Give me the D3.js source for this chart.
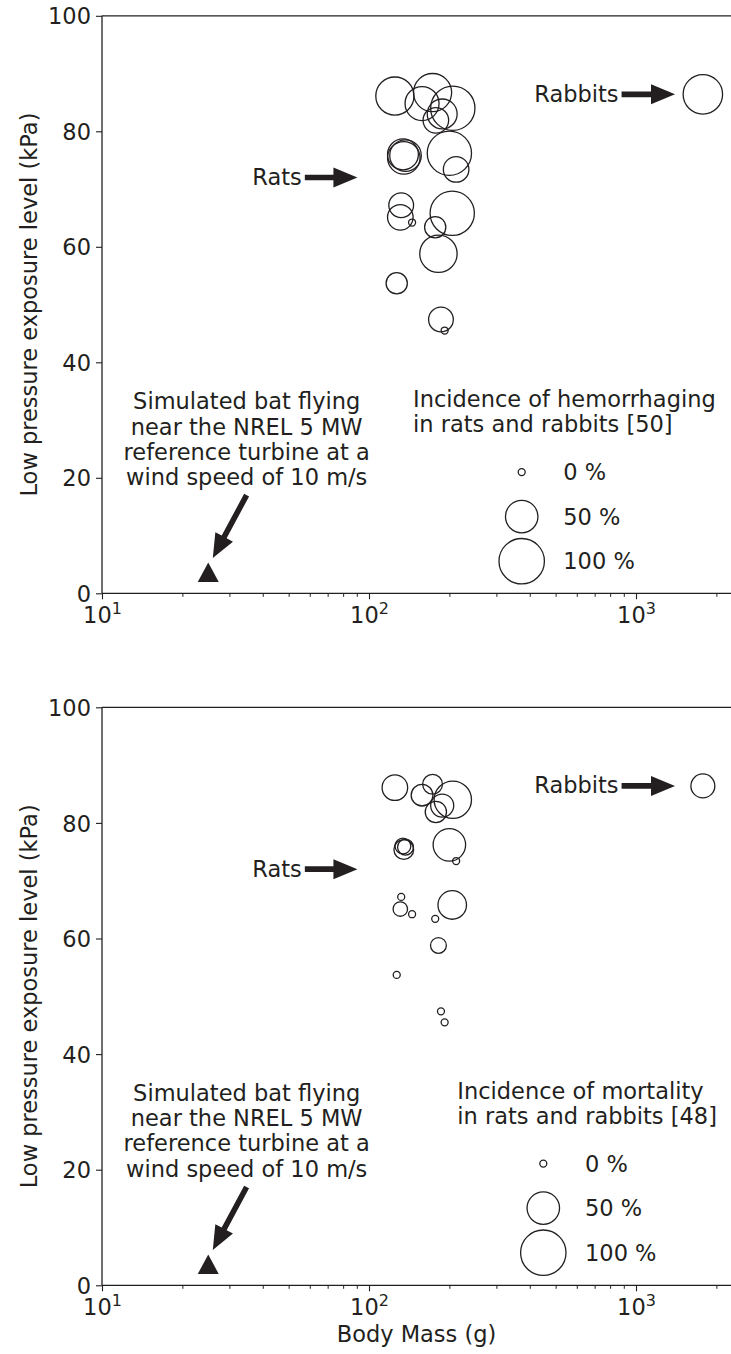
<!DOCTYPE html>
<html>
<head>
<meta charset="utf-8">
<script src="https://cdn.jsdelivr.net/npm/d3@7"></script>
<style>
  html, body { margin: 0; padding: 0; background: #fff; }
  svg { display: block; }
  text { font-family: "DejaVu Sans", sans-serif; fill: #231f20; }
</style>
</head>
<body>
<svg id="chart" width="731" height="1354"></svg>
<script>
// Rat exposures: body mass (g) and low-pressure level (kPa)
const ratMass = [125, 173, 158, 206, 188, 178, 135, 137, 134, 200, 212, 132, 131, 145, 205, 177, 182, 127, 186, 192];
const ratPressure = [86.1, 86.7, 84.8, 84.0, 83.0, 81.9, 75.4, 75.8, 76.0, 76.2, 73.4, 67.2, 65.1, 64.2, 65.8, 63.4, 58.8, 53.7, 47.4, 45.5];
// Incidence (%) of hemorrhaging and of mortality for each rat exposure
const ratHemorrhage = [70, 70, 55, 95, 42, 30, 50, 47, 45, 95, 30, 28, 30, 0, 95, 20, 67, 20, 28, 0];
const ratMortality = [30, 17, 21, 67, 24, 20, 17, 10, 10, 50, 0, 0, 8, 0, 38, 0, 10, 0, 0, 0];

// Rabbit exposure
const rabbitMass = [1780];
const rabbitPressure = [86.4];
const rabbitHemorrhage = [75];
const rabbitMortality = [26];

// Simulated bat near the NREL 5 MW turbine
const batMass = [25.0];
const batPressure = [3.6];

// Axis ticks and legend steps
const xMajorTicks = [10, 100, 1000];
const xTickExponents = ["1", "2", "3"];
const yTicks = [0, 20, 40, 60, 80, 100];
const legendPercents = [0, 50, 100];
const legendLabels = ["0 %", "50 %", "100 %"];

// Annotation arrows: [tail mass, tail kPa, tip mass, tip kPa]
const ratsArrow = [57.5, 72.0, 90.5, 72.0];
const rabbitsArrow = [883, 86.4, 1400, 86.4];
const batArrow = [34.8, 17.0, 26.0, 6.1];

const batLines = ["Simulated bat flying", "near the NREL 5 MW", "reference turbine at a", "wind speed of 10 m/s"];

const INK = "#231f20";
const FONT = 22.5;

const svg = d3.select("#chart");

const left = 102, right = 733;
const x = d3.scaleLog().domain([10, Math.pow(10, 1 + (right - left) / 267)]).range([left, right]);

// marker area grows linearly with incidence
const area = d3.scaleLinear().domain([0, 100]).range([3.5 * 3.5, 22.7 * 22.7]);
const radius = p => Math.sqrt(area(p));

const panels = [
  {
    top: 15.8, bottom: 593.3,
    ratSize: ratHemorrhage, rabbitSize: rabbitHemorrhage,
    legendTitle: ["Incidence of hemorrhaging", "in rats and rabbits [50]"],
    legendTitleX: 413, legendCircleX: 521.7, legendLabelX: 563.3,
    showXTitle: false
  },
  {
    top: 707.3, bottom: 1285.3,
    ratSize: ratMortality, rabbitSize: rabbitMortality,
    legendTitle: ["Incidence of mortality", "in rats and rabbits [48]"],
    legendTitleX: 457.3, legendCircleX: 543.3, legendLabelX: 585,
    showXTitle: true
  }
];

function arrow(g, x0, y0, x1, y1) {
  const dx = x1 - x0, dy = y1 - y0;
  const len = Math.hypot(dx, dy);
  const ux = dx / len, uy = dy / len;
  const nx = -uy, ny = ux;
  const headLen = 24, headHalf = 10, shaftHalf = 2.8;
  const bx = x1 - ux * headLen, by = y1 - uy * headLen;
  const pts = [
    [x0 + nx * shaftHalf, y0 + ny * shaftHalf],
    [bx + nx * shaftHalf, by + ny * shaftHalf],
    [bx + nx * headHalf, by + ny * headHalf],
    [x1, y1],
    [bx - nx * headHalf, by - ny * headHalf],
    [bx - nx * shaftHalf, by - ny * shaftHalf],
    [x0 - nx * shaftHalf, y0 - ny * shaftHalf]
  ];
  g.append("path").attr("d", "M" + pts.map(p => p.join(",")).join("L") + "Z").attr("fill", INK);
}

panels.forEach(P => {
  const y = d3.scaleLinear().domain([0, 100]).range([P.bottom, P.top]);
  const g = svg.append("g");

  // spines (left, bottom, top)
  g.append("line").attr("x1", left).attr("x2", left).attr("y1", P.top).attr("y2", P.bottom)
    .attr("stroke", INK).attr("stroke-width", 1.3);
  g.append("line").attr("x1", left).attr("x2", right).attr("y1", P.bottom).attr("y2", P.bottom)
    .attr("stroke", INK).attr("stroke-width", 1.3);
  g.append("line").attr("x1", left).attr("x2", right).attr("y1", P.top).attr("y2", P.top)
    .attr("stroke", INK).attr("stroke-width", 1.3);

  // y axis
  const yAxis = g.append("g").attr("transform", `translate(${left},0)`)
    .call(d3.axisLeft(y).tickValues(yTicks).tickSize(6).tickPadding(5).tickFormat(d3.format("d")));
  yAxis.select(".domain").remove();
  yAxis.selectAll(".tick line").attr("stroke", INK).attr("stroke-width", 1.1);
  yAxis.selectAll(".tick text").attr("font-size", FONT).attr("font-family", "DejaVu Sans").attr("fill", INK)
    .attr("dy", "0.36em");

  // x axis: major + minor ticks
  const minor = x.ticks().filter(v => !xMajorTicks.includes(v));
  const xAxisMinor = g.append("g").attr("transform", `translate(0,${P.bottom})`)
    .call(d3.axisBottom(x).tickValues(minor).tickSize(3.5).tickFormat(""));
  xAxisMinor.select(".domain").remove();
  xAxisMinor.selectAll(".tick line").attr("stroke", INK).attr("stroke-width", 1);
  const xAxis = g.append("g").attr("transform", `translate(0,${P.bottom})`)
    .call(d3.axisBottom(x).tickValues(xMajorTicks).tickSize(6).tickFormat(""));
  xAxis.select(".domain").remove();
  xAxis.selectAll(".tick line").attr("stroke", INK).attr("stroke-width", 1.1);
  xAxis.selectAll(".tick").each(function (d, i) {
    const t = d3.select(this).append("text")
      .attr("x", 0).attr("y", 30).attr("text-anchor", "middle")
      .attr("font-size", FONT).attr("fill", INK);
    t.append("tspan").text("10");
    t.append("tspan").attr("dy", -9).attr("font-size", 16).text(xTickExponents[i]);
  });

  // y axis title
  g.append("text")
    .attr("transform", `translate(37,${(P.top + P.bottom) / 2}) rotate(-90)`)
    .attr("text-anchor", "middle").attr("font-size", FONT)
    .text("Low pressure exposure level (kPa)");

  if (P.showXTitle) {
    g.append("text").attr("x", (left + 731) / 2).attr("y", P.bottom + 57)
      .attr("text-anchor", "middle").attr("font-size", FONT).text("Body Mass (g)");
  }

  // rat bubbles
  g.selectAll("circle.rat").data(ratMass.map((m, i) => ({ m, p: ratPressure[i], s: P.ratSize[i] })))
    .join("circle").attr("class", "rat")
    .attr("cx", d => x(d.m)).attr("cy", d => y(d.p)).attr("r", d => radius(d.s))
    .attr("fill", "none").attr("stroke", INK).attr("stroke-width", 1.3);

  // rabbit bubble
  g.selectAll("circle.rabbit").data(rabbitMass.map((m, i) => ({ m, p: rabbitPressure[i], s: P.rabbitSize[i] })))
    .join("circle").attr("class", "rabbit")
    .attr("cx", d => x(d.m)).attr("cy", d => y(d.p)).attr("r", d => radius(d.s))
    .attr("fill", "none").attr("stroke", INK).attr("stroke-width", 1.3);

  // bat marker
  g.selectAll("path.bat").data(batMass.map((m, i) => ({ m, p: batPressure[i] })))
    .join("path").attr("class", "bat")
    .attr("d", d => {
      const cx = x(d.m), cy = y(d.p);
      return `M${cx},${cy - 10}L${cx + 10.5},${cy + 9.5}L${cx - 10.5},${cy + 9.5}Z`;
    })
    .attr("fill", INK);

  // annotations
  arrow(g, x(ratsArrow[0]), y(ratsArrow[1]), x(ratsArrow[2]), y(ratsArrow[3]));
  g.append("text").attr("x", x(ratsArrow[0]) - 3).attr("y", y(ratsArrow[1]) + 7.5)
    .attr("text-anchor", "end").attr("font-size", FONT).text("Rats");

  arrow(g, x(rabbitsArrow[0]), y(rabbitsArrow[1]), x(rabbitsArrow[2]), y(rabbitsArrow[3]));
  g.append("text").attr("x", x(rabbitsArrow[0]) - 3).attr("y", y(rabbitsArrow[1]) + 7.5)
    .attr("text-anchor", "end").attr("font-size", FONT).text("Rabbits");

  arrow(g, x(batArrow[0]), y(batArrow[1]), x(batArrow[2]), y(batArrow[3]));
  const batText = g.append("text").attr("text-anchor", "middle").attr("font-size", FONT);
  batLines.forEach((line, i) => {
    batText.append("tspan").attr("x", 246.7).attr("y", P.top + 393.5 + i * 25.3).text(line);
  });

  // size legend
  const lt = g.append("text").attr("font-size", FONT);
  P.legendTitle.forEach((line, i) => {
    lt.append("tspan").attr("x", P.legendTitleX).attr("y", P.top + 391.5 + i * 25).text(line);
  });
  const legendY = [456.3, 500.8, 545.4];
  legendPercents.forEach((p, i) => {
    g.append("circle").attr("cx", P.legendCircleX).attr("cy", P.top + legendY[i]).attr("r", radius(p))
      .attr("fill", "none").attr("stroke", INK).attr("stroke-width", 1.3);
    g.append("text").attr("x", P.legendLabelX).attr("y", P.top + legendY[i] + 8)
      .attr("font-size", FONT).text(legendLabels[i]);
  });
});
</script>
</body>
</html>
